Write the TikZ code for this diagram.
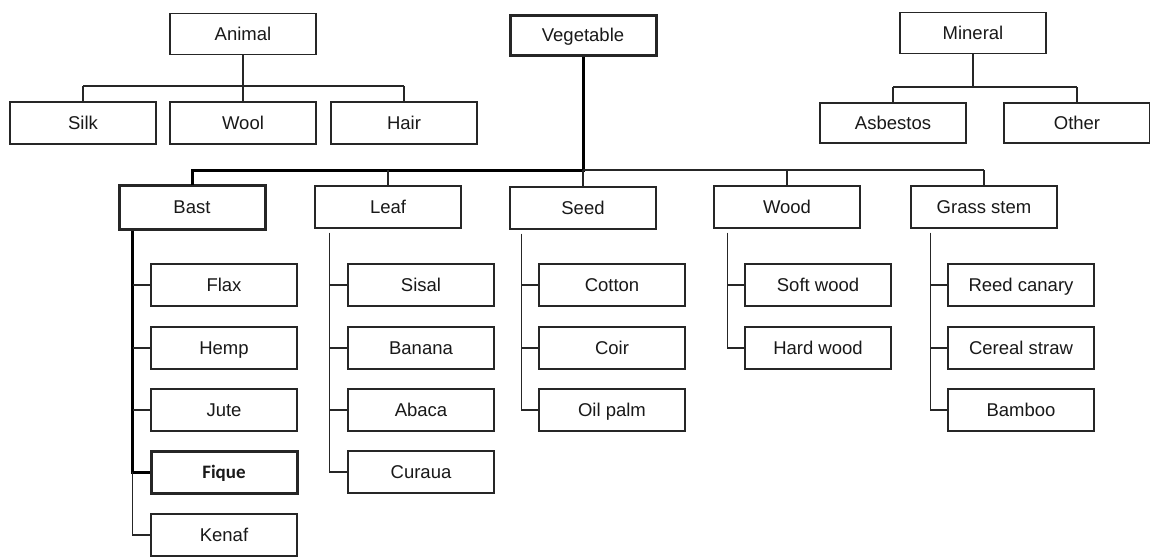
\documentclass[tikz,border=0pt]{standalone}
\usepackage{fontspec}
\setmainfont{Liberation Sans}
\newfontfamily\fiquefont{Carlito}
\begin{document}
\begin{tikzpicture}[x=1pt,y=-1pt,
  box/.style={draw=black!85, line width=1.4pt, minimum width=146pt, minimum height=42pt, inner sep=0pt, text height=13pt, text depth=0pt, font=\fontsize{18.5}{22}\selectfont, text=black!90},
  bold box/.style={box, line width=3pt},
  ln/.style={draw=black!85, line width=1.4pt},
  thk/.style={draw=black, line width=3pt}]
\useasboundingbox[fill=white] (0,0) rectangle (1150,558);
% top row
\node[box, minimum height=41pt] (animal) at (243,34) {Animal};
\node[bold box, minimum height=40pt] (veg) at (583,35) {Vegetable};
\node[box, minimum height=41pt] (mineral) at (973,33) {Mineral};
\node[box] (silk) at (83,123) {Silk};
\node[box] (wool) at (243,123) {Wool};
\node[box] (hair) at (404,123) {Hair};
\node[box, minimum height=40pt] (asb) at (893,123) {Asbestos};
\node[box, minimum height=40pt] (other) at (1077,123) {Other};
% second row
\node[bold box, minimum height=44pt] (bast) at (192,207) {Bast};
\node[box] (leaf) at (388,207) {Leaf};
\node[box] (seed) at (583,208) {Seed};
\node[box] (wood) at (787,207) {Wood};
\node[box] (grass) at (984,207) {Grass stem};
% children
\node[box] (flax) at (224,285) {Flax};
\node[box] (hemp) at (224,348) {Hemp};
\node[box] (jute) at (224,410) {Jute};
\node[bold box, font=\fiquefont\bfseries\fontsize{19}{22}\selectfont, text height=12pt] (fique) at (224,472) {Fique};
\node[box] (kenaf) at (224,535) {Kenaf};
\node[box] (sisal) at (421,285) {Sisal};
\node[box] (banana) at (421,348) {Banana};
\node[box] (abaca) at (421,410) {Abaca};
\node[box] (curaua) at (421,472) {Curaua};
\node[box] (cotton) at (612,285) {Cotton};
\node[box] (coir) at (612,348) {Coir};
\node[box] (oilpalm) at (612,410) {Oil palm};
\node[box] (soft) at (818,285) {Soft wood};
\node[box] (hard) at (818,348) {Hard wood};
\node[box] (reed) at (1021,285) {Reed canary};
\node[box] (cereal) at (1021,348) {Cereal straw};
\node[box] (bamboo) at (1021,410) {Bamboo};
% animal connectors
\coordinate (abus) at (243,86);
\draw[ln] (animal.south) -- (abus);
\draw[ln] (silk.north |- abus) -- (hair.north |- abus);
\draw[ln] (silk.north |- abus) -- (silk.north);
\draw[ln] (abus) -- (wool.north);
\draw[ln] (hair.north |- abus) -- (hair.north);
% mineral connectors
\coordinate (mbus) at (973,87);
\draw[ln] (mineral.south) -- (mbus);
\draw[ln] (asb.north |- mbus) -- (other.north |- mbus);
\draw[ln] (asb.north |- mbus) -- (asb.north);
\draw[ln] (other.north |- mbus) -- (other.north);
% vegetable connectors
\coordinate (vbus) at (583,170);
\draw[thk] (veg.south) -- (vbus);
\draw[thk, line cap=rect] (vbus) -- (bast.north |- vbus) -- (bast.north);
\draw[ln] (vbus) -- (grass.north |- vbus);
\draw[ln] (leaf.north |- vbus) -- (leaf.north);
\draw[ln] (vbus) -- (seed.north);
\draw[ln] (wood.north |- vbus) -- (wood.north);
\draw[ln] (grass.north |- vbus) -- (grass.north);
% bast spine
\coordinate (bs) at ([xshift=15pt]bast.south west);
\draw[thk] (bs) |- (fique.west);
\draw[ln] (bs |- fique.west) |- (kenaf.west);
\draw[ln] (bs |- flax.west) -- (flax.west);
\draw[ln] (bs |- hemp.west) -- (hemp.west);
\draw[ln] (bs |- jute.west) -- (jute.west);
% leaf spine
\coordinate (ls) at ([xshift=15pt,yshift=-4pt]leaf.south west);
\draw[ln] (ls) |- (curaua.west);
\draw[ln] (ls |- sisal.west) -- (sisal.west);
\draw[ln] (ls |- banana.west) -- (banana.west);
\draw[ln] (ls |- abaca.west) -- (abaca.west);
% seed spine
\coordinate (ss) at ([xshift=12pt,yshift=-4pt]seed.south west);
\draw[ln] (ss) |- (oilpalm.west);
\draw[ln] (ss |- cotton.west) -- (cotton.west);
\draw[ln] (ss |- coir.west) -- (coir.west);
% wood spine
\coordinate (ws) at ([xshift=14pt,yshift=-4pt]wood.south west);
\draw[ln] (ws) |- (hard.west);
\draw[ln] (ws |- soft.west) -- (soft.west);
% grass spine
\coordinate (gs) at ([xshift=20pt,yshift=-4pt]grass.south west);
\draw[ln] (gs) |- (bamboo.west);
\draw[ln] (gs |- reed.west) -- (reed.west);
\draw[ln] (gs |- cereal.west) -- (cereal.west);
\end{tikzpicture}
\end{document}
